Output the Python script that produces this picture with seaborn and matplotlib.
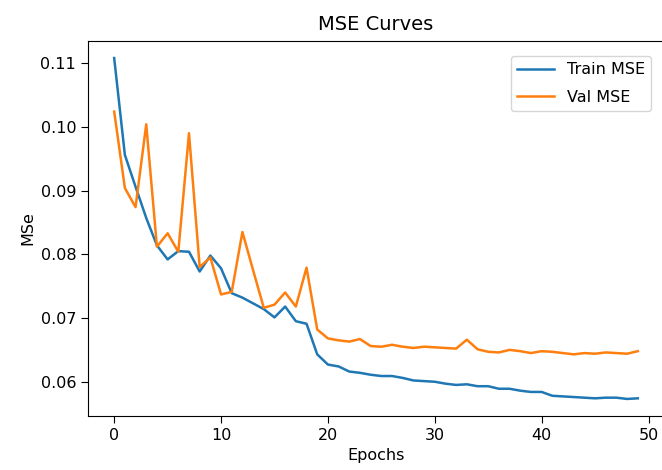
import numpy as np
import pandas as pd
import matplotlib
matplotlib.use("Agg")
import matplotlib.pyplot as plt
import seaborn as sns

epochs = list(range(50))
train_mse = [0.1108, 0.0956, 0.0906, 0.0857, 0.0814, 0.0792, 0.0805, 0.0804, 0.0773, 0.0798,
             0.0778, 0.0739, 0.0732, 0.0723, 0.0714, 0.0701, 0.0718, 0.0695, 0.0691, 0.0643,
             0.0627, 0.0624, 0.0616, 0.0614, 0.0611, 0.0609, 0.0609, 0.0606, 0.0602, 0.0601,
             0.0600, 0.0597, 0.0595, 0.0596, 0.0593, 0.0593, 0.0589, 0.0589, 0.0586, 0.0584,
             0.0584, 0.0578, 0.0577, 0.0576, 0.0575, 0.0574, 0.0575, 0.0575, 0.0573, 0.0574]
val_mse = [0.1024, 0.0904, 0.0874, 0.1004, 0.0812, 0.0833, 0.0804, 0.0990, 0.0780, 0.0795,
           0.0737, 0.0741, 0.0835, 0.0775, 0.0716, 0.0721, 0.0740, 0.0718, 0.0779, 0.0682,
           0.0668, 0.0665, 0.0663, 0.0667, 0.0656, 0.0655, 0.0658, 0.0655, 0.0653, 0.0655,
           0.0654, 0.0653, 0.0652, 0.0666, 0.0651, 0.0647, 0.0646, 0.0650, 0.0648, 0.0645,
           0.0648, 0.0647, 0.0645, 0.0643, 0.0645, 0.0644, 0.0646, 0.0645, 0.0644, 0.0648]
series_names = ["Train MSE", "Val MSE"]

df = pd.DataFrame({
    "Epochs": epochs * 2,
    "MSE": train_mse + val_mse,
    "Series": [series_names[0]] * len(epochs) + [series_names[1]] * len(epochs),
})

plt.rcParams["font.family"] = ["DejaVu Sans"]
fig = plt.figure(figsize=(6.62, 4.70), dpi=100)
ax = fig.add_axes([88 / 662, 1 - 416 / 470, (664 - 88) / 662, (416 - 41) / 470])
sns.lineplot(data=df, x="Epochs", y="MSE", hue="Series",
             palette=["#1f77b4", "#ff7f0e"], linewidth=1.8, ax=ax)
ax.set_title("MSE Curves", fontsize=14, pad=8)
ax.set_xlabel("Epochs", fontsize=11.5)
ax.set_ylabel("MSe", fontsize=11.5)
ax.set_xticks([0, 10, 20, 30, 40, 50])
ax.set_yticks([0.06, 0.07, 0.08, 0.09, 0.10, 0.11])
ax.tick_params(labelsize=11.5, length=5)
ax.legend(title=None, loc="upper right", fontsize=11.5, labelspacing=0.8,
          handlelength=2.3, bbox_to_anchor=(0.992, 0.982))
fig.savefig("out.png", dpi=100)
